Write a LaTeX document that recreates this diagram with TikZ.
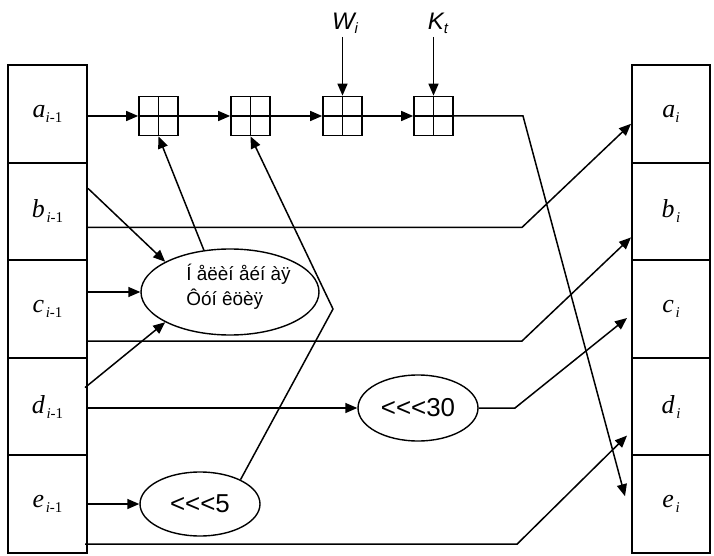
\documentclass[tikz,border=0pt]{standalone}
\usepackage{fontspec}
\setmainfont{Liberation Serif}
\setsansfont{Liberation Sans}
\usetikzlibrary{arrows.meta,shapes.geometric}
\newcommand\reglab[3]{{\fontsize{26}{28}\selectfont\textit{#1}}#3\raisebox{-5bp}{\fontsize{15}{17}\selectfont\textit{i}#2}}
\begin{document}
\begin{tikzpicture}[x=1bp,y=-1bp,
  conn/.style={line width=1.5bp},
  arr/.style={conn,-{Triangle[length=12bp,width=10bp]}},
  regbox/.style={draw,line width=2bp,minimum width=79bp,minimum height=97.6bp,inner sep=0pt},
  adder/.style={draw,line width=1.7bp,minimum size=39bp,inner sep=0pt,
    path picture={\draw[line width=1.5bp] (path picture bounding box.north) -- (path picture bounding box.south);
                  \draw[line width=1.5bp] (path picture bounding box.west) -- (path picture bounding box.east);}},
  oval/.style={draw,ellipse,line width=1.4bp,inner sep=0pt},
  inlab/.style={font=\sffamily\itshape\fontsize{24}{26}\selectfont,inner sep=3bp,anchor=south}]
\useasboundingbox (0,0) rectangle (714,556);
% left registers
\node[regbox] (la) at (47.5,113.8) {\reglab{a}{-1}{}};
\node[regbox] (lb) at (47.5,211.4) {\reglab{b}{-1}{\,}};
\node[regbox] (lc) at (47.5,309.0) {\reglab{c}{-1}{\,}};
\node[regbox] (ld) at (47.5,406.6) {\reglab{d}{-1}{\,}};
\node[regbox] (le) at (47.5,504.2) {\reglab{e}{-1}{\,}};
% right registers
\node[regbox,minimum width=78bp] (ra) at (671,113.8) {\reglab{a}{}{}};
\node[regbox,minimum width=78bp] (rb) at (671,211.4) {\reglab{b}{}{\,}};
\node[regbox,minimum width=78bp] (rc) at (671,309.0) {\reglab{c}{}{\,}};
\node[regbox,minimum width=78bp] (rd) at (671,406.6) {\reglab{d}{}{\,}};
\node[regbox,minimum width=78bp] (re) at (671,504.2) {\reglab{e}{}{\,}};
% adders
\node[adder] (s1) at (158.5,116) {};
\node[adder] (s2) at (250.5,116) {};
\node[adder] (s3) at (342.5,116) {};
\node[adder] (s4) at (433.5,116) {};
\node[inlab] (W) at (345,37) {W\raisebox{-4bp}{\fontsize{15}{17}\selectfont i}};
\node[inlab] (K) at (438,37) {K\raisebox{-4bp}{\fontsize{15}{17}\selectfont t}};
% function blocks
\node[oval,minimum width=178bp,minimum height=86bp] (nl) at (230,292) {};
\node[font=\sffamily\fontsize{19}{25}\selectfont,align=left,inner sep=0pt] (nlt) at (238.5,287) {Í åëèí åéí àÿ\\Ôóí êöèÿ};
\node[oval,minimum width=120bp,minimum height=66bp,font=\sffamily\fontsize{26}{28}\selectfont] (r30) at (418,408) {{<}{<}{<}30};
\node[oval,minimum width=120bp,minimum height=64bp,font=\sffamily\fontsize{26}{28}\selectfont] (r5) at (200,504) {{<}{<}{<}5};
% corners
\coordinate (c4) at (523,116);
\coordinate (cb) at (522,227.4);
\coordinate (cc) at (522,341);
\coordinate (cd) at (515,408);
\coordinate (ce) at (517,544.2);
\coordinate (c5) at (333,309);
% adder chain
\draw[arr] (s1.west -| la.east) -- (s1.west);
\draw[arr] (s1.east) -- (s2.west);
\draw[arr] (s2.east) -- (s3.west);
\draw[arr] (s3.east) -- (s4.west);
\draw[arr] (s3.north |- W.south) -- (s3.north);
\draw[arr] (s4.north |- K.south) -- (s4.north);
\draw[arr] (s4.east) -- (c4) -- ([xshift=-6bp,yshift=8bp]re.west);
% long lines
\draw[arr] ([yshift=-16bp]lb.east) -- (cb) -- ([yshift=-10bp]ra.west);
\draw[arr] ([yshift=-32bp]lc.east) -- (cc) -- ([yshift=-26bp]rb.west);
\draw[arr] (r30.east) -- (cd) -- ([xshift=-4bp,yshift=-9bp]rc.west);
\draw[arr] ([xshift=-3bp,yshift=-40bp]le.east) -- (ce) -- ([xshift=-4bp,yshift=-29bp]rd.west);
% into the function
\draw[arr] ([yshift=23bp]lb.east) -- (nl.155);
\draw[arr] (nl.west -| lc.east) -- (nl.west);
\draw[arr] ([xshift=-3bp,yshift=19bp]ld.east) -- (nl.205);
\draw[arr] (nl.122) -- (s1.south);
% rotations
\draw[arr] (r30.west -| ld.east) -- (r30.west);
\draw[arr] (r5.west -| le.east) -- (r5.west);
\draw[arr] (r5.31) -- (c5) -- (s2.south);
\end{tikzpicture}
\end{document}
